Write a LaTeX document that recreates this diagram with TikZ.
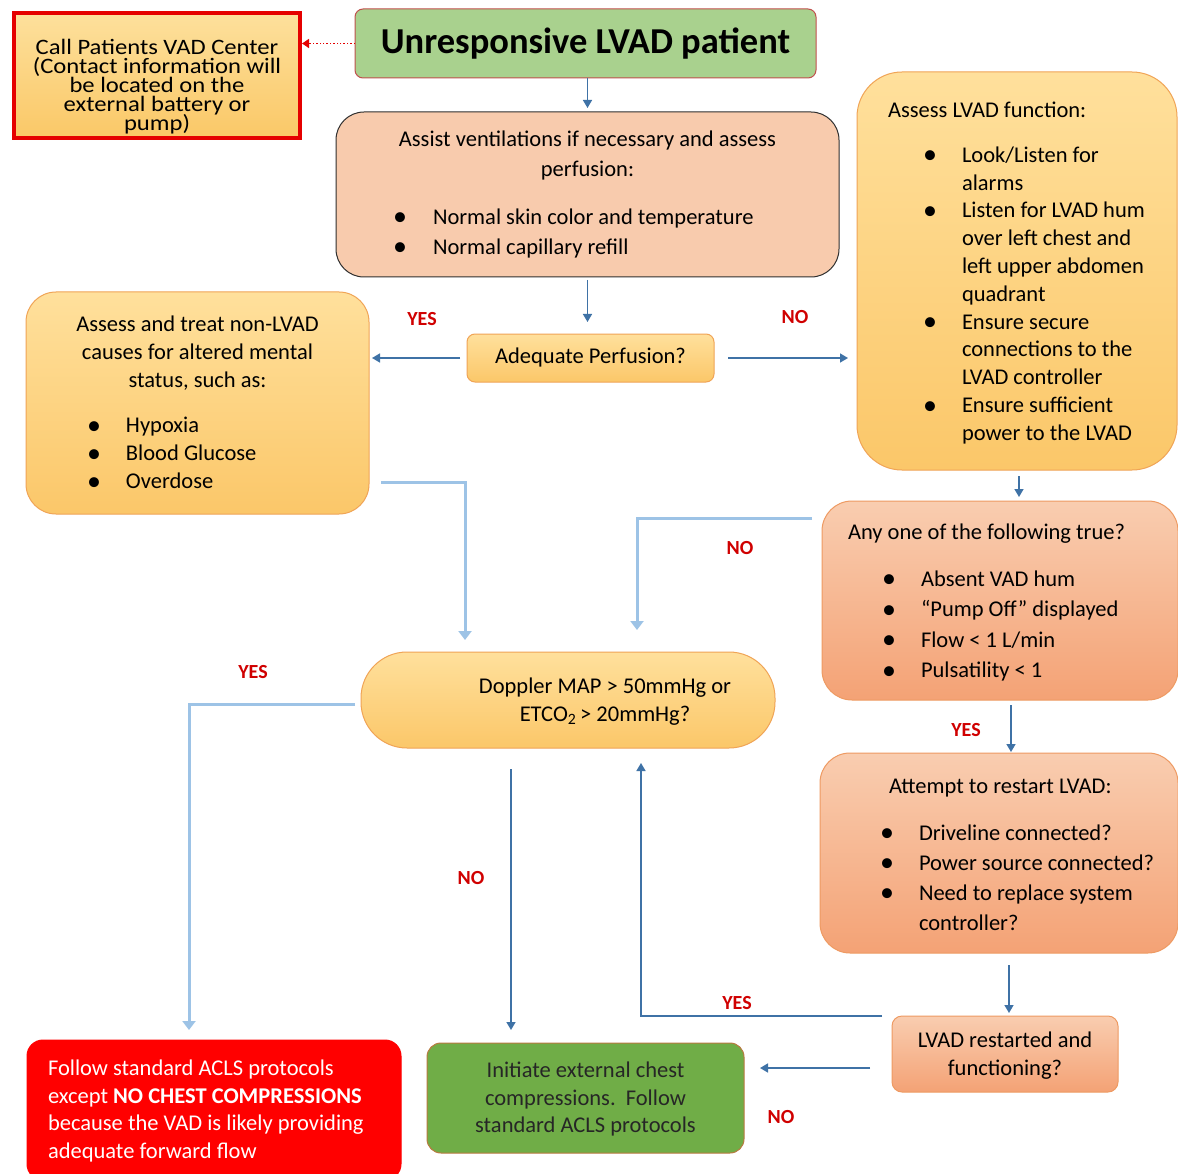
\documentclass[tikz,border=0pt]{standalone}
\usepackage{fontspec}
\setmainfont{Carlito}
\newfontfamily\widefont{Carlito}[FakeStretch=1.12]
\usetikzlibrary{arrows.meta}
\definecolor{titleGreen}{HTML}{A9D18E}
\definecolor{titleBorder}{HTML}{C0504D}
\definecolor{callRed}{HTML}{E50000}
\definecolor{callTop}{HTML}{FDE09C}
\definecolor{callBot}{HTML}{FAC867}
\definecolor{assistFill}{HTML}{F8CBAD}
\definecolor{assistBorder}{HTML}{303030}
\definecolor{yelTop}{HTML}{FFE09C}
\definecolor{yelBot}{HTML}{FBC769}
\definecolor{boxOrange}{HTML}{F0A456}
\definecolor{salTop}{HTML}{F9CDB0}
\definecolor{salBot}{HTML}{F4A275}
\definecolor{salBorder}{HTML}{EE9A62}
\definecolor{grnFill}{HTML}{70AD47}
\definecolor{grnBorder}{HTML}{B8793F}
\definecolor{redFill}{HTML}{FF0000}
\definecolor{arrDark}{HTML}{3F72A6}
\definecolor{arrLight}{HTML}{9DC3E6}
\definecolor{lblRed}{HTML}{D00000}
\newcommand{\bigbul}{\raisebox{-1.5pt}{\fontsize{28}{28}\selectfont •}}
\newcommand{\bitem}[3]{\makebox[\linewidth][l]{\hspace*{#1}\makebox[0pt]{\bigbul}\hspace*{#2}#3}\par}
\newcommand{\lline}[2]{\makebox[\linewidth][l]{\hspace*{#1}#2}\par}
\newcommand{\cln}[1]{\makebox[\linewidth][c]{#1}\par}
\begin{document}
\begin{tikzpicture}[x=1pt,y=-1pt,
  every node/.style={inner sep=0pt, outer sep=0pt},
  base/.style={rectangle, draw, line width=1pt},
  ybox/.style={base, draw=boxOrange, top color=yelTop, bottom color=yelBot},
  sbox/.style={base, draw=salBorder, top color=salTop, bottom color=salBot},
  darr/.style={draw=arrDark, line width=1.5pt, -{Triangle[length=8pt,width=9pt]}},
  larr/.style={draw=arrLight, line width=3pt, -{Triangle[length=9pt,width=13pt]}},
  lbl/.style={text=lblRed, font=\bfseries\fontsize{20}{24}\selectfont},
]
\useasboundingbox (0,0) rectangle (1178,1174);
\fill[white] (0,0) rectangle (1178,1174);

% nodes
\node[base, draw=titleBorder, fill=titleGreen, rounded corners=8pt,
      minimum width=461pt, minimum height=69pt] (top) at (585.5,43.5)
  {\fontsize{36.5}{40}\selectfont\bfseries Unresponsive LVAD patient};

\node[rectangle, draw=callRed, line width=4pt, top color=callTop, bottom color=callBot,
      minimum width=286pt, minimum height=125pt] (call) at (157,75.5)
  {\parbox{284pt}{\vspace*{22pt}\centering\widefont\fontsize{22}{19}\selectfont\lineskiplimit=-100pt
   Call Patients VAD Center\\(Contact information will\\be located on the\\external battery or\\pump)}};

\node[base, draw=assistBorder, fill=assistFill, rounded corners=28pt,
      minimum width=503pt, minimum height=165pt] (assist) at (587.5,194.5)
  {\parbox{503pt}{\fontsize{22.5}{30}\selectfont
   \cln{Assist ventilations if necessary and assess}
   \cln{perfusion:}
   \vspace{18pt}
   \bitem{64pt}{33pt}{Normal skin color and temperature}
   \bitem{64pt}{33pt}{Normal capillary refill}}};

\node[ybox, rounded corners=8pt, minimum width=247pt, minimum height=48pt] (adeq) at (590.5,358)
  {\fontsize{22.5}{26}\selectfont Adequate Perfusion?};

\node[ybox, rounded corners=30pt, minimum width=343pt, minimum height=222pt] (treat) at (197.5,403)
  {\parbox{343pt}{\fontsize{22.5}{28}\selectfont
   \cln{Assess and treat non-LVAD}
   \cln{causes for altered mental}
   \cln{status, such as:}
   \vspace{17pt}
   \bitem{68pt}{32pt}{Hypoxia}
   \bitem{68pt}{32pt}{Blood Glucose}
   \bitem{68pt}{32pt}{Overdose}}};

\node[ybox, rounded corners=45pt, minimum width=320pt, minimum height=398pt] (lvadf) at (1017,271)
  {\parbox{320pt}{\fontsize{22.5}{27.8}\selectfont
   \vspace*{4pt}
   \lline{31pt}{Assess LVAD function:}
   \vspace{17pt}
   \bitem{73pt}{32pt}{Look/Listen for}
   \lline{105pt}{alarms}
   \bitem{73pt}{32pt}{Listen for LVAD hum}
   \lline{105pt}{over left chest and}
   \lline{105pt}{left upper abdomen}
   \lline{105pt}{quadrant}
   \bitem{73pt}{32pt}{Ensure secure}
   \lline{105pt}{connections to the}
   \lline{105pt}{LVAD controller}
   \bitem{73pt}{32pt}{Ensure sufficient}
   \lline{105pt}{power to the LVAD}}};

\node[sbox, rounded corners=30pt, minimum width=356pt, minimum height=199pt] (anyone) at (1000,600.5)
  {\parbox{356pt}{\fontsize{22.5}{30.5}\selectfont
   \vspace*{4pt}
   \lline{26pt}{Any one of the following true?}
   \vspace{16.5pt}
   \bitem{67pt}{32pt}{Absent VAD hum}
   \bitem{67pt}{32pt}{“Pump Off” displayed}
   \bitem{67pt}{32pt}{Flow < 1 L/min}
   \bitem{67pt}{32pt}{Pulsatility < 1}}};

\node[sbox, rounded corners=30pt, minimum width=358pt, minimum height=200pt] (attempt) at (999,853)
  {\parbox{358pt}{\fontsize{22.5}{30}\selectfont
   \vspace*{3pt}
   \lline{69pt}{Attempt to restart LVAD:}
   \vspace{17pt}
   \bitem{67pt}{32pt}{Driveline connected?}
   \bitem{67pt}{32pt}{Power source connected?}
   \bitem{67pt}{32pt}{Need to replace system}
   \lline{99pt}{controller?}}};

\node[sbox, rounded corners=10pt, minimum width=226pt, minimum height=76pt] (restart) at (1005,1054)
  {\parbox{226pt}{\fontsize{22.5}{28}\selectfont
   \vspace*{3pt}
   \cln{LVAD restarted and}
   \cln{functioning?}}};

\node[ybox, rounded corners=46pt, minimum width=414pt, minimum height=96pt] (doppler) at (568,700)
  {\parbox{414pt}{\fontsize{22.5}{28}\selectfont
   \vspace*{3pt}
   \cln{\hspace*{74pt}Doppler MAP > 50mmHg or}
   \cln{\hspace*{74pt}ETCO\textsubscript{2}\,> 20mmHg?}}};

\node[base, draw=grnBorder, fill=grnFill, rounded corners=14pt, minimum width=317pt, minimum height=110pt] (green) at (585.5,1098)
  {\parbox{317pt}{\fontsize{22.5}{27.5}\selectfont\color{black!85}
   \vspace*{2pt}
   \cln{Initiate external chest}
   \cln{compressions.\ \ Follow}
   \cln{standard ACLS protocols}}};

\node[base, draw=redFill, fill=redFill, rounded corners=16pt, minimum width=374pt, minimum height=140pt] (red) at (214,1110)
  {\parbox{374pt}{\fontsize{22.5}{27.7}\selectfont\color{white}
   \vspace*{2pt}
   \lline{21pt}{Follow standard ACLS protocols}
   \lline{21pt}{except \textbf{NO CHEST COMPRESSIONS}}
   \lline{21pt}{because the VAD is likely providing}
   \lline{21pt}{adequate forward flow}}};

% connectors
\draw[draw=callRed, dotted, line width=1.4pt, -{Triangle[length=7pt,width=9pt]}, shorten >=2pt]
  (top.west) -- (top.west -| call.east);
\draw[darr, shorten >=4pt] (assist.north |- top.south) -- (assist.north);
\draw[darr, shorten <=3pt, shorten >=12pt] (assist.south) -- (assist.south |- adeq.north);
\draw[darr, shorten <=7pt, shorten >=3pt] (adeq.west) -- (adeq.west -| treat.east);
\draw[darr, shorten <=14pt, shorten >=9pt] (adeq.east) -- (adeq.east -| lvadf.west);
\draw[darr, shorten <=6pt, shorten >=4pt] ([xshift=2pt]lvadf.south) -- ([xshift=2pt]lvadf.south |- anyone.north);
\draw[larr, shorten <=10pt] ([yshift=82.5pt]anyone.west) -| ([xshift=69pt,yshift=22pt]doppler.north);
\draw[larr, shorten <=12pt] ([yshift=-79pt]treat.east) -| ([xshift=-103pt,yshift=12pt]doppler.north);
\draw[larr, shorten <=6pt] ([yshift=-4pt]doppler.west) -| ([xshift=-25pt,yshift=10pt]red.north);
\draw[darr, shorten <=21pt, shorten >=13pt] ([xshift=-57pt]doppler.south) -- ([xshift=-57pt]doppler.south |- green.north);
\draw[darr, shorten <=5pt, shorten >=1pt] ([xshift=11pt]anyone.south) -- ([xshift=11pt]anyone.south |- attempt.north);
\draw[darr, shorten <=12pt, shorten >=3pt] ([xshift=10pt]attempt.south) -- ([xshift=10pt]attempt.south |- restart.north);
\draw[darr, shorten <=10pt] ([yshift=38pt]restart.west) -| ([xshift=73pt,yshift=-15pt]doppler.south);
\draw[darr, shorten <=22pt, shorten >=16pt] ([yshift=-14pt]restart.west) -- ([yshift=-14pt]restart.west -| green.east);

% labels
\node[lbl] (y1) at (422,319) {YES};
\node[lbl] (n1) at (795,317) {NO};
\node[lbl] (n2) at (740,548) {NO};
\node[lbl] (y2) at (966,730) {YES};
\node[lbl] (y3) at (253,672) {YES};
\node[lbl] (n3) at (471,878) {NO};
\node[lbl] (y4) at (737,1003) {YES};
\node[lbl] (n4) at (781,1117) {NO};
\end{tikzpicture}
\end{document}
